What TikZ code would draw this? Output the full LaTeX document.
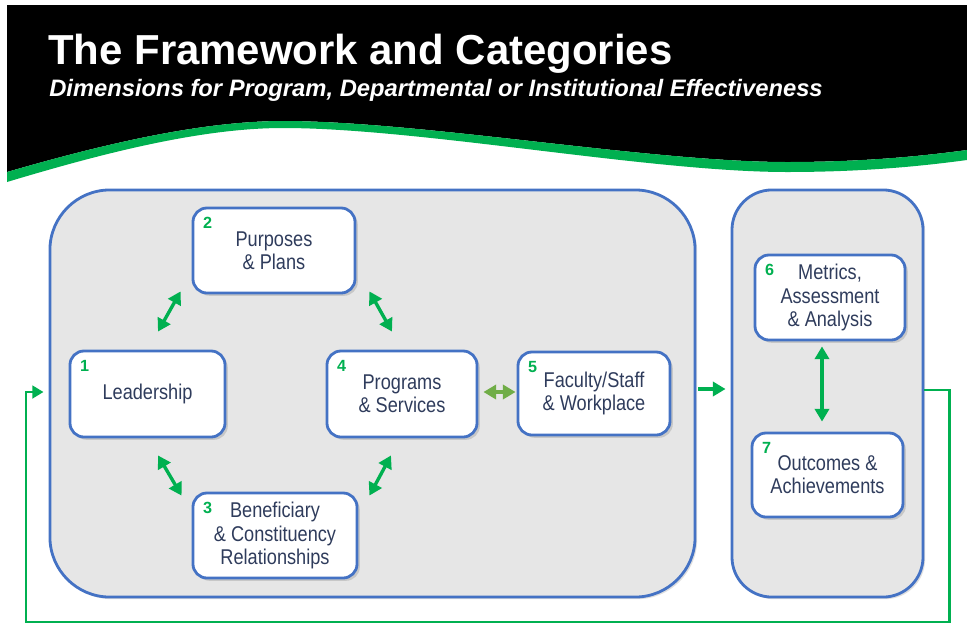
\documentclass[tikz,border=0pt]{standalone}
\usepackage{fontspec}
\setmainfont{Liberation Sans}
\newfontfamily\boxfont[FakeStretch=0.85]{Liberation Sans}
\usetikzlibrary{shapes,arrows.meta,shadows,calc}

\definecolor{hdgreen}{RGB}{0,176,80}
\definecolor{lgreen}{RGB}{112,173,71}
\definecolor{frameblue}{RGB}{68,114,196}
\definecolor{panel}{RGB}{230,230,230}
\definecolor{navy}{RGB}{47,60,92}

\begin{document}
\begin{tikzpicture}
	[x=0.025cm,y=-0.025cm,
	frame/.style={draw=frameblue,fill=panel,line width=2pt,rounded corners=1.5cm,
		drop shadow={shadow xshift=1.5pt,shadow yshift=-1.5pt,opacity=0.25}},
	box/.style={draw=frameblue,fill=white,line width=2pt,rounded corners=0.35cm,
		align=center,text=navy,font=\boxfont\fontsize{15.2pt}{16.5pt}\selectfont,
		drop shadow={shadow xshift=2pt,shadow yshift=-2pt,opacity=0.3}},
	num/.style={inner sep=0pt,text=hdgreen,font=\bfseries\fontsize{11.5pt}{11.5pt}\selectfont},
	dbl/.style={{Triangle[length=9pt,width=10pt]}-{Triangle[length=9pt,width=10pt]},
		line width=2.4pt,draw=hdgreen},
	arr/.style={-{Triangle[length=9pt,width=10pt]},line width=2.4pt,draw=hdgreen}]
	\useasboundingbox (0,0) rectangle (967,626);
	\fill[white] (0,0) rectangle (967,626);
	
	% header
	\fill[black] (7,5) -- (967,5) -- (967,150) .. controls (930,155) and (870,162) .. (787,162)
		.. controls (650,162) and (420,121) .. (283,121) .. controls (200,121) and (100,145) .. (7,172) -- cycle;
	\fill[hdgreen] (7,172) .. controls (100,145) and (200,121) .. (283,121)
		.. controls (420,121) and (650,162) .. (787,162) .. controls (870,162) and (930,155) .. (967,150)
		-- (967,160) .. controls (930,165) and (870,172) .. (787,172)
		.. controls (650,172) and (420,128) .. (283,128) .. controls (200,128) and (100,154) .. (7,182) -- cycle;
	\node[anchor=base west,inner sep=0pt,text=white,font=\bfseries\fontsize{29.8pt}{32pt}\selectfont]
		(title) at (48,64) {The Framework and Categories};
	\node[anchor=base west,inner sep=0pt,text=white,font=\bfseries\itshape\fontsize{16.9pt}{18pt}\selectfont]
		(subtitle) at (49,96) {Dimensions for Program, Departmental or Institutional Effectiveness};
	
	% panels
	\node[frame,minimum width=16.125cm,minimum height=10.175cm] (left) at (372.5,393.5) {};
	\node[frame,rounded corners=1cm,minimum width=4.775cm,minimum height=10.175cm] (right) at (827.5,393.5) {};
	
	\node[box,minimum width=3.875cm,minimum height=2.15cm] (lead) at (147.5,394) {Leadership};
	\node[box,minimum width=4.05cm,minimum height=2.125cm] (purp) at (274,250.5) {Purposes\\ \& Plans};
	\node[box,minimum width=4.1cm,minimum height=2.125cm] (bene) at (275,535.5) {Beneficiary\\ \& Constituency\\ Relationships};
	\node[box,minimum width=3.75cm,minimum height=2.15cm] (prog) at (402,394) {Programs\\ \& Services};
	\node[box,minimum width=3.8cm,minimum height=2.075cm] (fac) at (594,393.5) {Faculty/Staff\\ \& Workplace};
	\node[box,minimum width=3.75cm,minimum height=2.125cm] (metr) at (830,297.5) {Metrics,\\ Assessment\\ \& Analysis};
	\node[box,minimum width=3.775cm,minimum height=2.1cm] (outc) at (827.5,475) {Outcomes \&\\ Achievements};
	
	\foreach \boxname/\numb in {lead/1, purp/2, bene/3, prog/4, fac/5, metr/6, outc/7}
		\node[num] (n\numb) at ([shift={(16,16)}]\boxname.north west) {\numb};
	
	% links
	\draw[dbl] ([shift={(10.5,-18)}]lead.north) -- ([shift={(-11,-3)}]purp.south west);
	\draw[dbl] ([shift={(13,-3)}]purp.south east) -- ([shift={(-10,-18)}]prog.north);
	\draw[dbl] ([shift={(10.5,17)}]lead.south) -- ([shift={(-10,4)}]bene.north west);
	\draw[dbl] ([shift={(11,4)}]bene.north east) -- ([shift={(-11,17)}]prog.south);
	\draw[dbl,draw=lgreen] ([shift={(5,-2)}]prog.east) -- ([shift={(-1,-1.5)}]fac.west);
	\draw[dbl] ([shift={(-8,5)}]metr.south) -- ([shift={(-5.5,-10)}]outc.north);
	\draw[arr] ([shift={(2,-4.5)}]left.east) -- ([shift={(-5,-4.5)}]right.west);
	
	\coordinate (back) at (26,622);
	\draw[arr,-{Triangle[length=8pt,width=9pt]},line width=2pt,line join=miter]
		([shift={(0,-3.5)}]right.east) -- ++(25,0) |- (back) |- ([shift={(-5,-1.5)}]left.west);
\end{tikzpicture}
\end{document}
